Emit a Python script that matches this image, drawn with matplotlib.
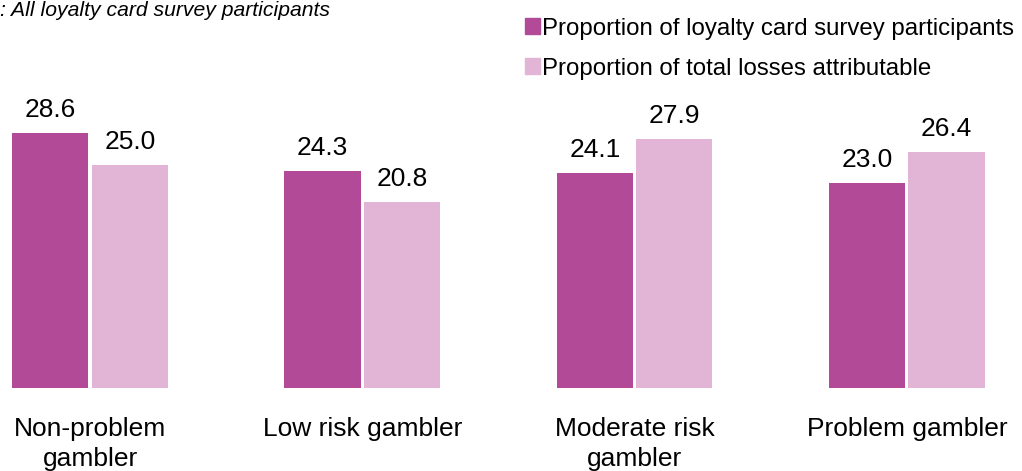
import numpy as np
import matplotlib
matplotlib.use("Agg")
import matplotlib.pyplot as plt
from matplotlib.patches import Patch

plt.rcParams["font.family"] = ["Liberation Sans", "DejaVu Sans"]

DARK = "#B24A98"
LIGHT = "#E2B4D6"

categories = ["Non-problem\ngambler", "Low risk gambler",
              "Moderate risk\ngambler", "Problem gambler"]
participants = [28.6, 24.3, 24.1, 23.0]
losses = [25.0, 20.8, 27.9, 26.4]
series_names = ["Proportion of loyalty card survey participants",
                "Proportion of total losses attributable"]

fig = plt.figure(figsize=(10.22, 4.71), dpi=100)
ax = fig.add_axes([0, 0.176, 1, 0.6])

x = np.arange(len(categories))
w = 0.28
off = 0.146
b1 = ax.bar(x - off, participants, w, color=DARK)
b2 = ax.bar(x + off, losses, w, color=LIGHT)

for bars, vals in [(b1, participants), (b2, losses)]:
    for r, v in zip(bars, vals):
        ax.annotate(f"{v:.1f}", (r.get_x() + r.get_width() / 2, v),
                    xytext=(0, 8), textcoords="offset points",
                    ha="center", va="bottom", fontsize=19)

ax.set_xlim(-0.331, 3.423)
ax.set_ylim(0, 31.65)
ax.set_xticks(x)
ax.set_xticklabels(categories, fontsize=19, va="top", linespacing=1.3)
ax.tick_params(axis="x", length=0, pad=21)
ax.set_yticks([])
for s in ax.spines.values():
    s.set_visible(False)

fig.text(0.0, 1 - 11 / 471, ": All loyalty card survey participants",
         fontsize=15.2, style="italic", ha="left", va="center")

handles = [Patch(color=DARK), Patch(color=LIGHT)]
fig.legend(handles, series_names, loc="upper left",
           bbox_to_anchor=(515 / 1022, 1 - 8 / 471), frameon=False,
           fontsize=17.3, handlelength=0.62, handleheight=0.62,
           handletextpad=0.12, labelspacing=0.75, borderaxespad=0)

fig.savefig("out.png", dpi=100)
